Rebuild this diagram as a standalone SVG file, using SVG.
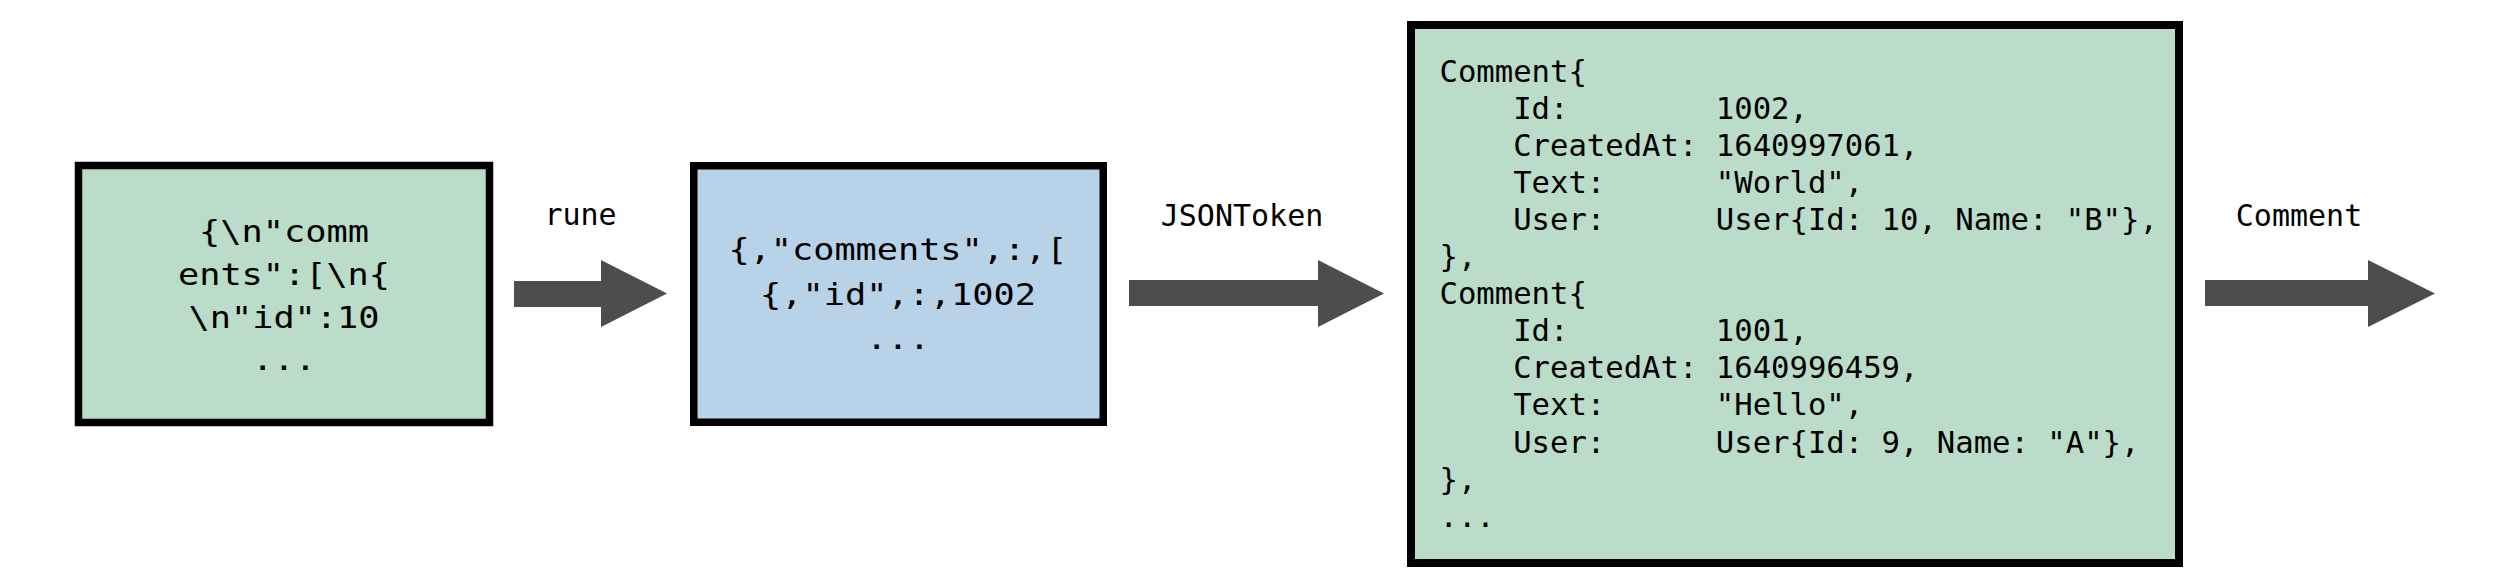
<svg xmlns="http://www.w3.org/2000/svg" width="2520" height="588" viewBox="0 0 2520 588">
<style>
  .box{stroke:#000;stroke-width:7.5}
  .green{fill:#badcc9}
  .blue{fill:#b8d2e8}
  .mono{font-family:"DejaVu Sans Mono","Liberation Mono",monospace;fill:#000}
  .big{font-size:31px;text-anchor:middle}
  .code{font-size:30.6px}
  .lbl{font-size:30px;text-anchor:middle}
  .arrow{fill:#4d4d4d}
</style>
<rect width="2520" height="588" fill="#fff"/>
<g id="node-runes">
  <rect class="box green" x="78.5" y="165.5" width="411" height="257"/>
  <text class="mono big" x="284" y="242" textLength="170" lengthAdjust="spacingAndGlyphs">{\n"comm</text>
  <text class="mono big" x="284" y="285" textLength="212" lengthAdjust="spacingAndGlyphs">ents":[\n{</text>
  <text class="mono big" x="284" y="328" textLength="191" lengthAdjust="spacingAndGlyphs">\n"id":10</text>
  <text class="mono big" x="284" y="370" textLength="64" lengthAdjust="spacingAndGlyphs">...</text>
</g>
<g id="node-tokens">
  <rect class="box blue" x="693.75" y="165.75" width="409.5" height="256.5"/>
  <text class="mono big" x="898" y="260" textLength="339" lengthAdjust="spacingAndGlyphs">{,"comments",:,[</text>
  <text class="mono big" x="898" y="305" textLength="276" lengthAdjust="spacingAndGlyphs">{,"id",:,1002</text>
  <text class="mono big" x="898" y="349" textLength="64" lengthAdjust="spacingAndGlyphs">...</text>
</g>
<g id="node-comments">
  <rect class="box green" x="1411" y="25" width="768" height="538" style="stroke-width:8"/>
  <g class="mono code">
    <text x="1439.5" y="81.5">Comment{</text>
    <text x="1513.2" y="118.6">Id:</text><text x="1715.8" y="118.6">1002,</text>
    <text x="1513.2" y="155.7">CreatedAt:</text><text x="1715.8" y="155.7">1640997061,</text>
    <text x="1513.2" y="192.8">Text:</text><text x="1715.8" y="192.8">"World",</text>
    <text x="1513.2" y="229.9">User:</text><text x="1715.8" y="229.9">User{Id: 10, Name: "B"},</text>
    <text x="1439.5" y="267">},</text>
    <text x="1439.5" y="304.1">Comment{</text>
    <text x="1513.2" y="341.2">Id:</text><text x="1715.8" y="341.2">1001,</text>
    <text x="1513.2" y="378.3">CreatedAt:</text><text x="1715.8" y="378.3">1640996459,</text>
    <text x="1513.2" y="415.4">Text:</text><text x="1715.8" y="415.4">"Hello",</text>
    <text x="1513.2" y="452.5">User:</text><text x="1715.8" y="452.5">User{Id: 9, Name: "A"},</text>
    <text x="1439.5" y="489.6">},</text>
    <text x="1439.5" y="526.7">...</text>
  </g>
</g>
<g id="connectors">
  <g id="edge-rune">
    <polygon class="arrow" points="514,281 601,281 601,260 667,293.5 601,327 601,307 514,307"/>
    <text class="mono lbl" x="580.5" y="225">rune</text>
  </g>
  <g id="edge-jsontoken">
    <polygon class="arrow" points="1129,280 1318,280 1318,260 1384,293.5 1318,327 1318,306 1129,306"/>
    <text class="mono lbl" x="1242" y="226">JSONToken</text>
  </g>
  <g id="edge-comment">
    <polygon class="arrow" points="2205,280 2368,280 2368,260 2435,293.5 2368,327 2368,306 2205,306"/>
    <text class="mono lbl" x="2299" y="226">Comment</text>
  </g>
</g>
</svg>
